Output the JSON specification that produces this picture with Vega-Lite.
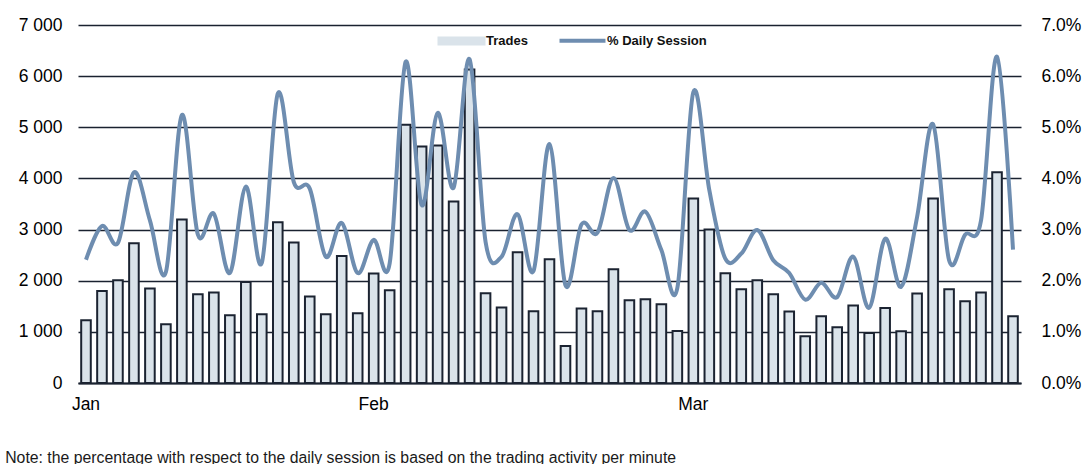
{
  "$schema": "https://vega.github.io/schema/vega-lite/v6.json",
  "autosize": {"type": "none"},
  "padding": {"left": 78, "top": 25, "right": 69, "bottom": 81},
  "width": 943,
  "height": 358,
  "background": "#ffffff",
  "config": {
    "view": {"stroke": null},
    "font": "Liberation Sans",
    "axis": {"labelFont": "Liberation Sans", "labelFontSize": 17.5, "labelColor": "#000000", "ticks": false, "domain": false, "grid": false, "title": null},
    "legend": {
      "orient": "none",
      "legendX": 377,
      "legendY": 9,
      "direction": "horizontal",
      "labelFont": "Liberation Sans",
      "labelFontSize": 13,
      "labelFontWeight": "bold",
      "labelColor": "#111111",
      "labelOffset": 18,
      "columnPadding": 23,
      "symbolSize": 100,
      "symbolStrokeColor": "#1b2331",
      "symbolStrokeWidth": 2
    }
  },
  "title": {
    "text": "Note: the percentage with respect to the daily session is based on the trading activity per minute",
    "orient": "bottom",
    "anchor": "start",
    "font": "Liberation Sans",
    "fontSize": 15.8,
    "fontWeight": "normal",
    "color": "#1a1a1a",
    "dx": -13,
    "offset": 38
  },
  "data": {
    "values": [
      {"day": 0, "month": "Jan", "trades": 1226, "pct": 0.0241},
      {"day": 1, "month": "Jan", "trades": 1800, "pct": 0.0307},
      {"day": 2, "month": "Jan", "trades": 2010, "pct": 0.0274},
      {"day": 3, "month": "Jan", "trades": 2733, "pct": 0.0412},
      {"day": 4, "month": "Jan", "trades": 1846, "pct": 0.0318},
      {"day": 5, "month": "Jan", "trades": 1148, "pct": 0.0217},
      {"day": 6, "month": "Jan", "trades": 3196, "pct": 0.0524},
      {"day": 7, "month": "Jan", "trades": 1735, "pct": 0.0290},
      {"day": 8, "month": "Jan", "trades": 1768, "pct": 0.0331},
      {"day": 9, "month": "Jan", "trades": 1324, "pct": 0.0215},
      {"day": 10, "month": "Jan", "trades": 1977, "pct": 0.0384},
      {"day": 11, "month": "Jan", "trades": 1344, "pct": 0.0235},
      {"day": 12, "month": "Jan", "trades": 3144, "pct": 0.0566},
      {"day": 13, "month": "Jan", "trades": 2746, "pct": 0.0393},
      {"day": 14, "month": "Jan", "trades": 1690, "pct": 0.0380},
      {"day": 15, "month": "Jan", "trades": 1344, "pct": 0.0247},
      {"day": 16, "month": "Jan", "trades": 2485, "pct": 0.0313},
      {"day": 17, "month": "Jan", "trades": 1363, "pct": 0.0215},
      {"day": 18, "month": "Feb", "trades": 2140, "pct": 0.0280},
      {"day": 19, "month": "Feb", "trades": 1813, "pct": 0.0234},
      {"day": 20, "month": "Feb", "trades": 5049, "pct": 0.0628},
      {"day": 21, "month": "Feb", "trades": 4625, "pct": 0.0348},
      {"day": 22, "month": "Feb", "trades": 4645, "pct": 0.0528},
      {"day": 23, "month": "Feb", "trades": 3549, "pct": 0.0382},
      {"day": 24, "month": "Feb", "trades": 6132, "pct": 0.0633},
      {"day": 25, "month": "Feb", "trades": 1755, "pct": 0.0276},
      {"day": 26, "month": "Feb", "trades": 1474, "pct": 0.0247},
      {"day": 27, "month": "Feb", "trades": 2557, "pct": 0.0330},
      {"day": 28, "month": "Feb", "trades": 1402, "pct": 0.0219},
      {"day": 29, "month": "Feb", "trades": 2420, "pct": 0.0467},
      {"day": 30, "month": "Feb", "trades": 724, "pct": 0.0191},
      {"day": 31, "month": "Feb", "trades": 1455, "pct": 0.0310},
      {"day": 32, "month": "Feb", "trades": 1402, "pct": 0.0294},
      {"day": 33, "month": "Feb", "trades": 2224, "pct": 0.0401},
      {"day": 34, "month": "Feb", "trades": 1618, "pct": 0.0299},
      {"day": 35, "month": "Feb", "trades": 1637, "pct": 0.0335},
      {"day": 36, "month": "Feb", "trades": 1539, "pct": 0.0260},
      {"day": 37, "month": "Feb", "trades": 1018, "pct": 0.0186},
      {"day": 38, "month": "Mar", "trades": 3607, "pct": 0.0569},
      {"day": 39, "month": "Mar", "trades": 3000, "pct": 0.0377},
      {"day": 40, "month": "Mar", "trades": 2146, "pct": 0.0243},
      {"day": 41, "month": "Mar", "trades": 1833, "pct": 0.0253},
      {"day": 42, "month": "Mar", "trades": 2009, "pct": 0.0299},
      {"day": 43, "month": "Mar", "trades": 1735, "pct": 0.0240},
      {"day": 44, "month": "Mar", "trades": 1396, "pct": 0.0215},
      {"day": 45, "month": "Mar", "trades": 913, "pct": 0.0163},
      {"day": 46, "month": "Mar", "trades": 1305, "pct": 0.0196},
      {"day": 47, "month": "Mar", "trades": 1089, "pct": 0.0168},
      {"day": 48, "month": "Mar", "trades": 1513, "pct": 0.0247},
      {"day": 49, "month": "Mar", "trades": 978, "pct": 0.0147},
      {"day": 50, "month": "Mar", "trades": 1468, "pct": 0.0282},
      {"day": 51, "month": "Mar", "trades": 1011, "pct": 0.0188},
      {"day": 52, "month": "Mar", "trades": 1748, "pct": 0.0325},
      {"day": 53, "month": "Mar", "trades": 3607, "pct": 0.0506},
      {"day": 54, "month": "Mar", "trades": 1833, "pct": 0.0240},
      {"day": 55, "month": "Mar", "trades": 1598, "pct": 0.0290},
      {"day": 56, "month": "Mar", "trades": 1768, "pct": 0.0318},
      {"day": 57, "month": "Mar", "trades": 4123, "pct": 0.0638},
      {"day": 58, "month": "Mar", "trades": 1305, "pct": 0.0261}
    ]
  },
  "encoding": {
    "x": {
      "field": "day",
      "type": "ordinal",
      "scale": {"paddingInner": 0.4, "paddingOuter": 0.2},
      "axis": {
        "values": [0, 18, 38],
        "labelExpr": "datum.value == 0 ? 'Jan' : datum.value == 18 ? 'Feb' : 'Mar'",
        "labelAngle": 0,
        "labelPadding": 12,
        "domain": true,
        "domainColor": "#1a2230",
        "domainWidth": 2
      }
    }
  },
  "layer": [
    {
      "mark": {"type": "bar", "stroke": "#1b2331", "strokeWidth": 2, "fillOpacity": 1},
      "encoding": {
        "y": {
          "field": "trades",
          "type": "quantitative",
          "scale": {"domain": [0, 7000], "nice": false},
          "axis": {
            "orient": "left",
            "values": [0, 1000, 2000, 3000, 4000, 5000, 6000, 7000],
            "labelExpr": "replace(format(datum.value, ','), ',', ' ')",
            "labelPadding": 16,
            "grid": true,
            "gridColor": "#1a2230",
            "gridWidth": 1.6
          }
        },
        "color": {
          "datum": "Trades",
          "scale": {"domain": ["Trades", "% Daily Session"], "range": ["#dae3ea", "#6e8db0"]},
          "legend": {
            "title": null,
            "encode": {
              "symbols": {
                "update": {
                  "shape": {"signal": "datum.value === 'Trades' ? 'M-4.6,-0.7H4.6V0.7H-4.6Z' : 'M-4.6,0H4.6'"},
                  "fill": {"signal": "datum.value === 'Trades' ? '#dae3ea' : 'transparent'"},
                  "stroke": {"signal": "datum.value === 'Trades' ? '#1b2331' : '#6e8db0'"},
                  "strokeWidth": {"signal": "datum.value === 'Trades' ? 2 : 4"},
                  "opacity": {"value": 1},
                  "fillOpacity": {"value": 1},
                  "strokeOpacity": {"value": 1}
                }
              }
            }
          }
        }
      }
    },
    {
      "mark": {"type": "line", "interpolate": "cardinal", "strokeWidth": 4, "clip": false},
      "encoding": {
        "y": {
          "field": "pct",
          "type": "quantitative",
          "scale": {"domain": [0, 0.07], "nice": false},
          "axis": {
            "orient": "right",
            "values": [0, 0.01, 0.02, 0.03, 0.04, 0.05, 0.06, 0.07],
            "format": ".1%",
            "labelPadding": 20
          }
        },
        "color": {
          "datum": "% Daily Session",
          "legend": {
            "title": null,
            "encode": {
              "symbols": {
                "update": {
                  "shape": {"signal": "datum.value === 'Trades' ? 'M-4.6,-0.7H4.6V0.7H-4.6Z' : 'M-4.6,0H4.6'"},
                  "fill": {"signal": "datum.value === 'Trades' ? '#dae3ea' : 'transparent'"},
                  "stroke": {"signal": "datum.value === 'Trades' ? '#1b2331' : '#6e8db0'"},
                  "strokeWidth": {"signal": "datum.value === 'Trades' ? 2 : 4"},
                  "opacity": {"value": 1},
                  "fillOpacity": {"value": 1},
                  "strokeOpacity": {"value": 1}
                }
              }
            }
          }
        }
      }
    }
  ],
  "resolve": {"scale": {"y": "independent"}}
}
